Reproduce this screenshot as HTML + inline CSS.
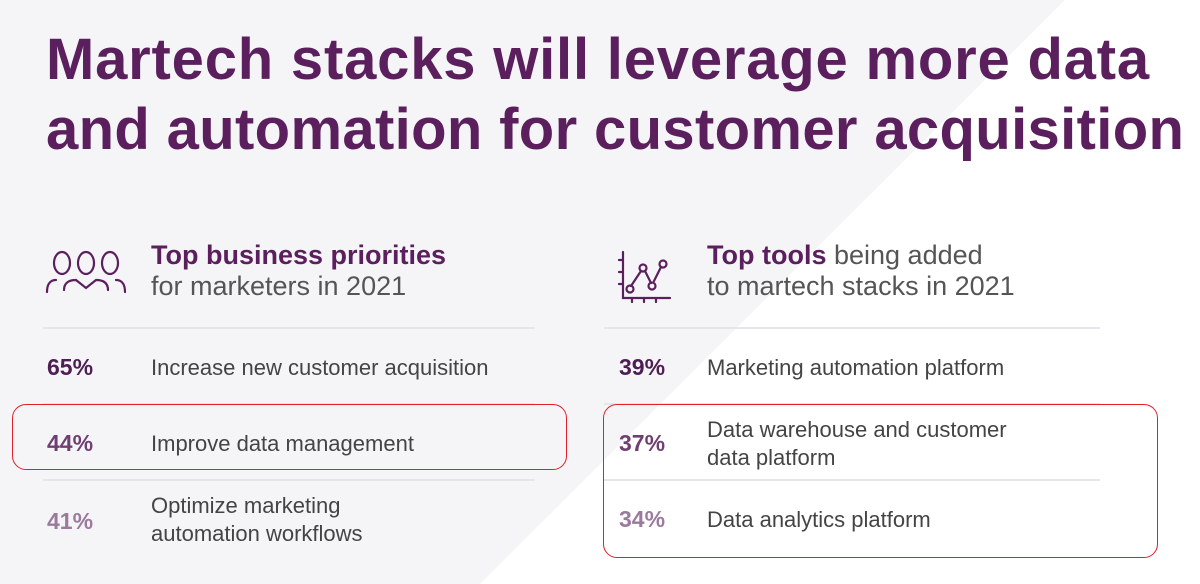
<!DOCTYPE html>
<html><head><meta charset="utf-8"><style>
body{margin:0;width:1200px;height:584px;overflow:hidden;font-family:"Liberation Sans",sans-serif;position:relative;background:#fff}
.a{position:absolute;white-space:nowrap}
.t{font-size:58px;font-weight:bold;color:#5b1f5e;left:46px}
.h{font-size:27px;color:#555}
.h b{color:#5b1f5e}
.p{font-size:23px;font-weight:bold}
.l{font-size:22px;color:#444}
.r{position:absolute;height:2px;background:#e6e6ea}
.box{position:absolute;border:1.5px solid #e0202a;border-radius:14px}
</style></head><body>
<svg class="a" style="left:0;top:0" width="1200" height="584"><polygon points="0,0 1065,0 480,584 0,584" fill="#f5f5f8"/></svg>
<div class="a t" style="top:26px;letter-spacing:0.8px">Martech stacks will leverage more data</div>
<div class="a t" style="top:96px;letter-spacing:0.35px">and automation for customer acquisition</div>

<svg class="a" style="left:44px;top:250px" width="84" height="50" fill="none" stroke="#5b1f5e" stroke-width="2.2" stroke-linecap="round">
<ellipse cx="18" cy="13" rx="8" ry="11"/><ellipse cx="42" cy="13" rx="8" ry="11"/><ellipse cx="66" cy="13" rx="8" ry="11"/>
<path d="M3 42 C3 32 8 30 12 30 M20 40 C20 32 26 30 32 30 M52 30 C58 30 64 32 64 40 M72 30 C76 30 81 32 81 42 M32 30 L42 38 L52 30"/></svg>
<div class="a h" style="left:151px;top:240px"><b>Top business priorities</b><br>for marketers in 2021</div>
<div class="r" style="left:43px;top:327px;width:492px"></div>

<div class="a p" style="left:47px;top:354px;color:#4e1f52">65%</div>
<div class="a l" style="left:151px;top:355px">Increase new customer acquisition</div>
<div class="r" style="left:43px;top:403px;width:492px"></div>
<div class="a p" style="left:47px;top:430px;color:#6f3f72">44%</div>
<div class="a l" style="left:151px;top:431px">Improve data management</div>
<div class="r" style="left:43px;top:479px;width:492px"></div>
<div class="a p" style="left:47px;top:508px;color:#9a7a9d">41%</div>
<div class="a l" style="left:151px;top:492px;line-height:28px">Optimize marketing<br>automation workflows</div>
<div class="box" style="left:12px;top:404px;width:553px;height:64px"></div>

<svg class="a" style="left:614px;top:248px" width="64" height="56" fill="none" stroke="#5b1f5e" stroke-width="2.2" stroke-linecap="round">
<path d="M9 4 V50 H56 M5 12 H9 M5 24 H9 M5 36 H9 M18 50 V54 M30 50 V54 M42 50 V54"/>
<path d="M17 38 L27 23 M31 23 L37 35 M40 33 L47 19"/>
<circle cx="16" cy="41" r="3.5"/><circle cx="29" cy="20" r="3.5"/><circle cx="38" cy="38" r="3.5"/><circle cx="49" cy="16" r="3.5"/></svg>
<div class="a h" style="left:707px;top:240px"><b>Top tools</b> being added<br>to martech stacks in 2021</div>
<div class="r" style="left:604px;top:327px;width:496px"></div>

<div class="a p" style="left:619px;top:354px;color:#4e1f52">39%</div>
<div class="a l" style="left:707px;top:355px">Marketing automation platform</div>
<div class="r" style="left:604px;top:403px;width:496px"></div>
<div class="a p" style="left:619px;top:430px;color:#6f3f72">37%</div>
<div class="a l" style="left:707px;top:416px;line-height:28px">Data warehouse and customer<br>data platform</div>
<div class="r" style="left:604px;top:479px;width:496px"></div>
<div class="a p" style="left:619px;top:506px;color:#9a7a9d">34%</div>
<div class="a l" style="left:707px;top:507px">Data analytics platform</div>
<div class="box" style="left:603px;top:404px;width:553px;height:152px"></div>
</body></html>
